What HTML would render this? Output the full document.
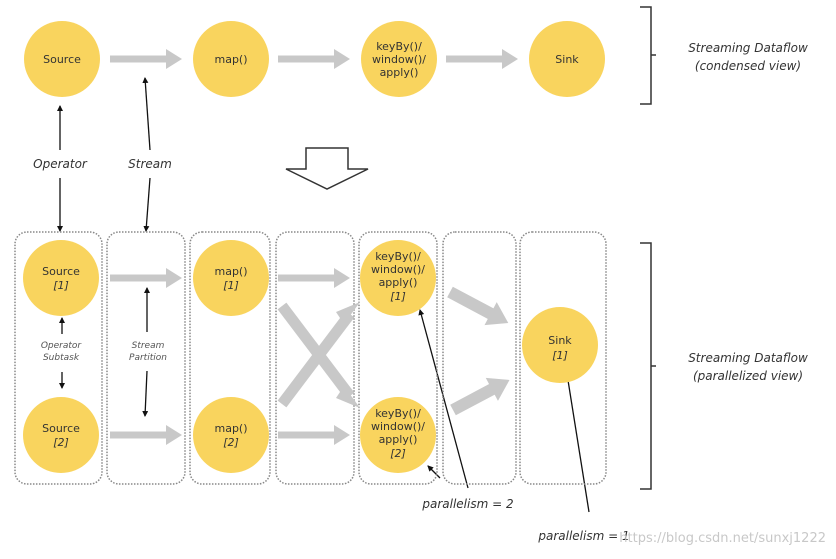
<!DOCTYPE html>
<html><head><meta charset="utf-8"><style>
body{margin:0;background:#fff}
text{font-family:"DejaVu Sans","Liberation Sans",sans-serif}
</style></head><body>
<svg width="836" height="554" viewBox="0 0 836 554" xmlns="http://www.w3.org/2000/svg">
<defs>
<marker id="ah" markerWidth="6" markerHeight="6" refX="5" refY="3" orient="auto" markerUnits="userSpaceOnUse"><path d="M0,0 L6,3 L0,6z" fill="#111"/></marker>
<g id="ga"><rect x="0" y="-3.5" width="58" height="7" fill="#c8c8c8"/><path d="M56,-10 L72,0 L56,10z" fill="#c8c8c8"/></g>
</defs>
<g fill="#f9d45e">
<circle cx="62" cy="59" r="38"/><circle cx="231" cy="59" r="38"/><circle cx="399" cy="59" r="38"/><circle cx="567" cy="59" r="38"/>
</g>
<use href="#ga" x="110" y="59"/><use href="#ga" x="278" y="59"/><use href="#ga" x="446" y="59"/>
<g font-size="11" fill="#333" text-anchor="middle">
<text x="62" y="63">Source</text><text x="231" y="63">map()</text>
<text x="399" y="50">keyBy()/</text><text x="399" y="63">window()/</text><text x="399" y="76">apply()</text>
<text x="567" y="63">Sink</text>
</g>
<path d="M640,7 H651 V104 H640 M651,55 H656" fill="none" stroke="#333" stroke-width="1.5"/>
<g font-size="12" font-style="italic" fill="#333" text-anchor="middle">
<text x="748" y="52">Streaming Dataflow</text><text x="748" y="70">(condensed view)</text>
<text x="60" y="168">Operator</text><text x="150" y="168">Stream</text>
<text x="748" y="362">Streaming Dataflow</text><text x="748" y="380">(parallelized view)</text>
<text x="468" y="508">parallelism = 2</text><text x="584" y="540">parallelism = 1</text>
</g>
<g stroke="#111" stroke-width="1.3" fill="none" marker-end="url(#ah)">
<line x1="60" y1="150" x2="60" y2="106"/><line x1="60" y1="178" x2="60" y2="231"/>
<line x1="150" y1="150" x2="145" y2="78"/><line x1="150" y1="178" x2="146" y2="231"/>
<line x1="62" y1="334" x2="62" y2="318"/><line x1="62" y1="372" x2="62" y2="388"/>
<line x1="147" y1="332" x2="147" y2="288"/><line x1="147" y1="371" x2="145" y2="416"/>
<line x1="468" y1="488" x2="420" y2="310"/><line x1="440" y1="478" x2="428" y2="466"/>
<line x1="589" y1="512" x2="567" y2="374"/>
</g>
<path d="M306,148 H348 V169 H368 L327,189 L286,169 H306Z" fill="#fff" stroke="#333" stroke-width="1.5"/>
<g fill="none" stroke="#888" stroke-width="1.5" stroke-dasharray="1.5 1.5">
<rect x="15" y="232" width="87" height="252" rx="12"/>
<rect x="107" y="232" width="78" height="252" rx="12"/>
<rect x="190" y="232" width="80" height="252" rx="12"/>
<rect x="276" y="232" width="78" height="252" rx="12"/>
<rect x="359" y="232" width="78" height="252" rx="12"/>
<rect x="443" y="232" width="73" height="252" rx="12"/>
<rect x="520" y="232" width="86" height="252" rx="12"/>
</g>
<g stroke="#c8c8c8" stroke-width="11">
<line x1="282" y1="306" x2="350" y2="396"/>
<line x1="282" y1="404" x2="350" y2="314"/>
</g>
<g fill="#c8c8c8">
<path d="M344,386 L360,408 L336,398z"/>
<path d="M344,324 L360,302 L336,312z"/>
</g>
<g fill="#f9d45e">
<circle cx="61" cy="278" r="38"/><circle cx="61" cy="435" r="38"/>
<circle cx="231" cy="278" r="38"/><circle cx="231" cy="435" r="38"/>
<circle cx="398" cy="278" r="38"/><circle cx="398" cy="435" r="38"/>
<circle cx="560" cy="345" r="38"/>
</g>
<use href="#ga" x="110" y="278"/><use href="#ga" x="110" y="435"/>
<use href="#ga" x="278" y="278"/><use href="#ga" x="278" y="435"/>
<g fill="#c8c8c8">
<g transform="translate(450,292) rotate(28)"><rect x="0" y="-6" width="48" height="12"/><path d="M46,-13 L66,0 L46,13z"/></g>
<g transform="translate(453,410) rotate(-28)"><rect x="0" y="-6" width="46" height="12"/><path d="M44,-13 L64,0 L44,13z"/></g>
</g>
<g font-size="11" fill="#333" text-anchor="middle">
<text x="61" y="275">Source</text><text x="61" y="289" font-style="italic">[1]</text>
<text x="61" y="432">Source</text><text x="61" y="446" font-style="italic">[2]</text>
<text x="231" y="275">map()</text><text x="231" y="289" font-style="italic">[1]</text>
<text x="231" y="432">map()</text><text x="231" y="446" font-style="italic">[2]</text>
<text x="398" y="260">keyBy()/</text><text x="398" y="273">window()/</text><text x="398" y="286">apply()</text><text x="398" y="300" font-style="italic">[1]</text>
<text x="398" y="417">keyBy()/</text><text x="398" y="430">window()/</text><text x="398" y="443">apply()</text><text x="398" y="457" font-style="italic">[2]</text>
<text x="560" y="344">Sink</text><text x="560" y="359" font-style="italic">[1]</text>
</g>
<g font-size="9" font-style="italic" fill="#555" text-anchor="middle">
<text x="61" y="348">Operator</text><text x="61" y="360">Subtask</text>
<text x="148" y="348">Stream</text><text x="148" y="360">Partition</text>
</g>
<path d="M640,243 H651 V489 H640 M651,366 H656" fill="none" stroke="#333" stroke-width="1.5"/>
<text x="826" y="542" font-size="13" fill="#c8c8c8" text-anchor="end" font-family="Liberation Sans,sans-serif">https://blog.csdn.net/sunxj1222</text>
</svg>
</body></html>
